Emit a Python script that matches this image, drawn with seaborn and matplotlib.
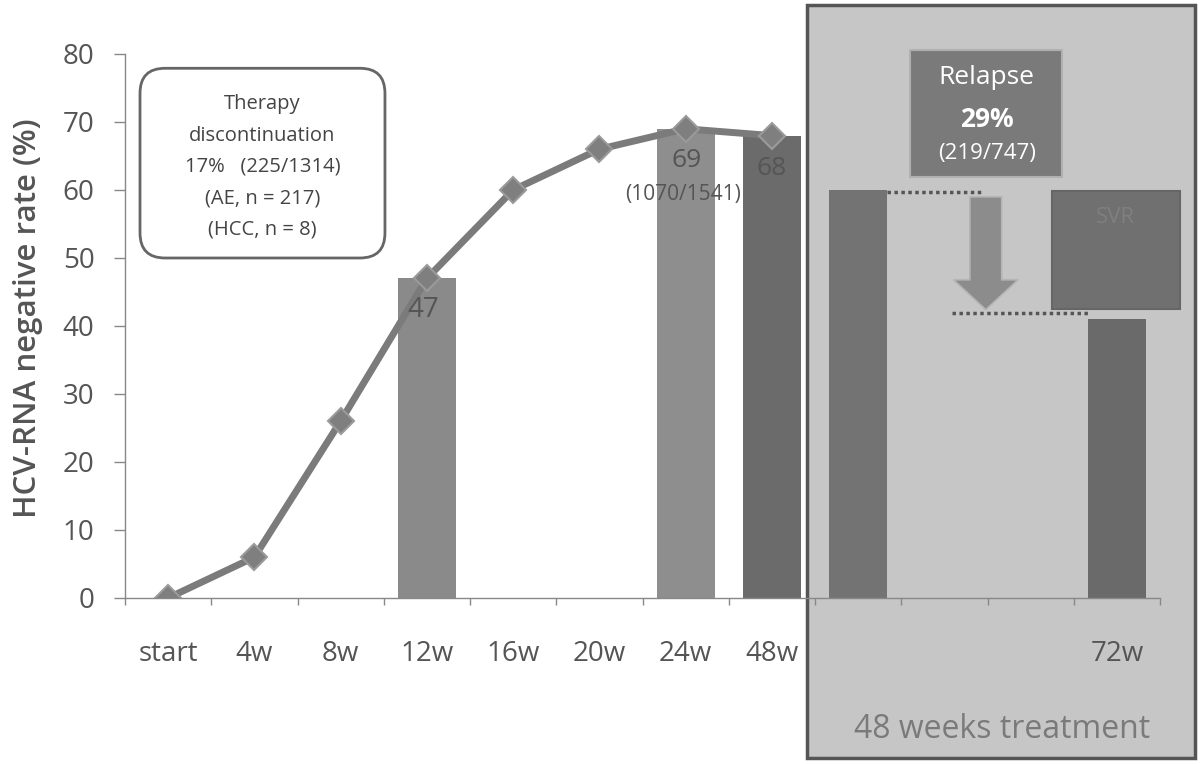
import numpy as np
import pandas as pd
import seaborn as sns
import matplotlib.pyplot as plt
from matplotlib.patches import FancyBboxPatch, Rectangle, FancyArrow

# categories on the x axis (p1..p3 are unlabeled slots in the 48-week panel)
stages = ['start', '4w', '8w', '12w', '16w', '20w', '24w', '48w', 'p1', 'p2', 'p3', '72w']
stage_labels = ['start', '4w', '8w', '12w', '16w', '20w', '24w', '48w', '', '', '', '72w']

# bars
bar_stages = ['12w', '24w', '48w', 'p1', '72w']
bar_values = [47, 69, 68, 60, 41]
bar_colors = ['#8a8a8a', '#8e8e8e', '#6b6b6b', '#737373', '#6a6a6a']

# line (negative rate over time)
line_stages = ['start', '4w', '8w', '12w', '16w', '20w', '24w', '48w']
line_values = [0, 6, 26, 47, 60, 66, 69, 68]

sns.set_theme(style='white')
plt.rcParams['font.family'] = ['Open Sans', 'DejaVu Sans']

fig = plt.figure(figsize=(12.02, 7.64), dpi=100)
fig.patch.set_facecolor('white')

# shaded "48 weeks treatment" panel behind the axes
panel = Rectangle((807 / 1202, 1 - 758 / 764), (1195 - 807) / 1202, (758 - 5) / 764,
                  transform=fig.transFigure, facecolor='#c6c6c6', edgecolor='#555555',
                  lw=2.5, zorder=-1)
fig.patches.append(panel)

ax = fig.add_axes([125 / 1202, 166 / 764, 1035 / 1202, 544 / 764])
ax.set_facecolor('none')

df_bar = pd.DataFrame({'stage': bar_stages, 'value': bar_values})
sns.barplot(data=df_bar, x='stage', y='value', hue='stage', order=stages,
            palette=dict(zip(bar_stages, bar_colors)), width=0.67, dodge=False,
            saturation=1, legend=False, linewidth=0, ax=ax)

df_line = pd.DataFrame({'stage': line_stages, 'value': line_values})
sns.pointplot(data=df_line, x='stage', y='value', order=stages, color='#7b7b7b',
              marker='D', markersize=13, markerfacecolor='#7f7f7f', markeredgecolor='#9a9a9a',
              markeredgewidth=1.5, linewidth=5, errorbar=None, ax=ax)

ax.set_xlim(-0.5, 11.5)
ax.set_ylim(0, 80)
ax.set_xlabel('')
ax.set_ylabel('')

# ticks at category boundaries, labels at centres
ax.set_xticks(np.arange(-0.5, 12, 1))
ax.set_xticklabels([])
ax.set_xticks(range(len(stages)), minor=True)
ax.set_xticklabels(stage_labels, minor=True)
ax.tick_params(axis='x', which='major', length=5, width=1, color='#888888', direction='out', bottom=True)
ax.tick_params(axis='x', which='minor', length=0, pad=30, labelsize=20, labelcolor='#555555')
ax.set_yticks(range(0, 81, 10))
ax.tick_params(axis='y', length=8, width=1, color='#888888', direction='out', left=True,
               pad=14, labelsize=20, labelcolor='#555555')

sns.despine(ax=ax)
for s in ['left', 'bottom']:
    ax.spines[s].set_color('#888888')
    ax.spines[s].set_linewidth(1)

fig.text(28 / 1202, 1 - 318 / 764, 'HCV-RNA negative rate (%)', rotation=90,
         ha='center', va='center', fontsize=22.5, fontweight='semibold', color='#555555')

# value labels
ax.text(2.96, 42.4, '47', ha='center', va='center', fontsize=20, color='#555555')
ax.text(6.01, 64.4, '69', ha='center', va='center', fontsize=19, color='#555555')
ax.text(5.97, 59.3, '(1070/1541)', ha='center', va='center', fontsize=15, color='#555555')
ax.text(7.0, 63.2, '68', ha='center', va='center', fontsize=19, color='#555555')

# therapy discontinuation box
asp = (1 / 6.8) / (1 / 86.25)
box = FancyBboxPatch((-0.326, 50), 2.84, 27.9, boxstyle='round,pad=0,rounding_size=0.29',
                     mutation_aspect=asp, facecolor='white', edgecolor='#666666', lw=2,
                     clip_on=False, zorder=3)
ax.add_patch(box)
ax.text(1.094, 63.4, 'Therapy\ndiscontinuation\n17%   (225/1314)\n(AE, n = 217)\n(HCC, n = 8)',
        ha='center', va='center', fontsize=14.5, color='#444444', linespacing=1.75, zorder=4)

# relapse box
relapse = Rectangle((8.60, 61.9), 1.76, 18.7, facecolor='#7a7a7a', edgecolor='#b0b0b0',
                    lw=1.5, clip_on=False, zorder=3)
ax.add_patch(relapse)
ax.text(9.49, 76.5, 'Relapse', ha='center', va='center', fontsize=19, color='white', zorder=4)
ax.text(9.49, 70.3, '29%', ha='center', va='center', fontsize=19, fontweight='bold', color='white', zorder=4)
ax.text(9.49, 65.4, '(219/747)', ha='center', va='center', fontsize=16, color='white', zorder=4)

# SVR box
svr = Rectangle((10.25, 42.5), 1.48, 17.4, facecolor='#707070', edgecolor='#666666',
                lw=1.5, clip_on=False, zorder=3)
ax.add_patch(svr)
ax.text(10.98, 56.0, 'SVR', ha='center', va='center', fontsize=16, color='#7f7f7f', zorder=4)

# dotted guide lines and arrow
ax.plot([8.34, 9.44], [59.7, 59.7], color='#555555', lw=2.5, ls=(0, (1, 1)), zorder=2)
ax.plot([9.09, 10.69], [41.9, 41.9], color='#555555', lw=2.5, ls=(0, (1, 1)), zorder=2)
arrow = FancyArrow(9.48, 59.0, 0, -16.6, width=0.37, head_width=0.75, head_length=4.4,
                   length_includes_head=True, facecolor='#8c8c8c', edgecolor='#b5b5b5', lw=1.2, zorder=3)
ax.add_patch(arrow)

fig.text(1002 / 1202, 1 - 730 / 764, '48 weeks treatment', ha='center', va='center',
         fontsize=23, color='#7a7a7a')

fig.savefig('out.png', dpi=100)
